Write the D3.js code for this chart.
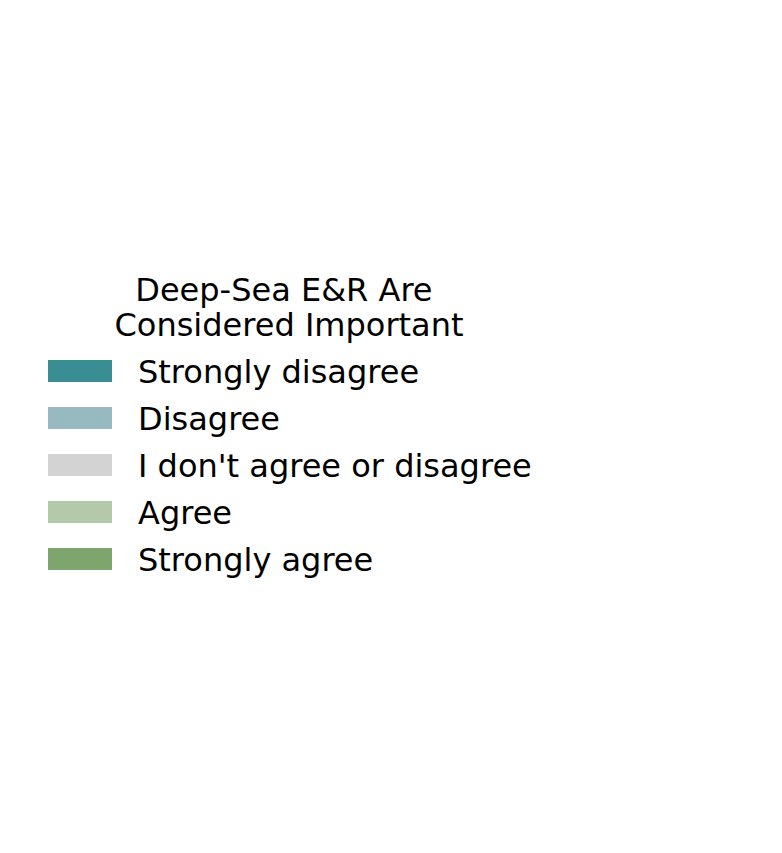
<!DOCTYPE html>
<html>
<head>
<meta charset="utf-8">
<script src="https://cdn.jsdelivr.net/npm/d3@7"></script>
<style>
  html, body { margin: 0; padding: 0; background: #ffffff; }
  text { font-family: "DejaVu Sans", sans-serif; white-space: pre; }
</style>
</head>
<body>
<svg id="chart" width="782" height="853"></svg>
<script>
const titleLines = ["Deep-Sea E&R Are ", "Considered Important"];
const categories = ["Strongly disagree", "Disagree", "I don't agree or disagree", "Agree", "Strongly agree"];
const colors = ["#388e93", "#97bac0", "#d3d3d3", "#b4c9aa", "#7fa56e"];

const svg = d3.select("#chart");
svg.append("rect").attr("width", 782).attr("height", 853).attr("fill", "#ffffff");

const fontSize = 32;
const y = d3.scaleBand().domain(categories).range([360, 360 + 47 * categories.length]).paddingInner(0);
const color = d3.scaleOrdinal().domain(categories).range(colors);

const title = svg.append("g");
titleLines.forEach((t, i) => {
  title.append("text")
    .attr("x", 289)
    .attr("y", 301 + i * 35)
    .attr("text-anchor", "middle")
    .attr("font-size", fontSize)
    .attr("fill", "#000")
    .text(t);
});

const items = svg.append("g").selectAll("g").data(categories).join("g")
  .attr("transform", d => `translate(0,${y(d)})`);
items.append("rect")
  .attr("x", 48).attr("y", 0).attr("width", 64).attr("height", 22)
  .attr("fill", d => color(d));
items.append("text")
  .attr("x", 138).attr("y", 22.5)
  .attr("font-size", fontSize)
  .attr("fill", "#000")
  .text(d => d);
</script>
</body>
</html>
